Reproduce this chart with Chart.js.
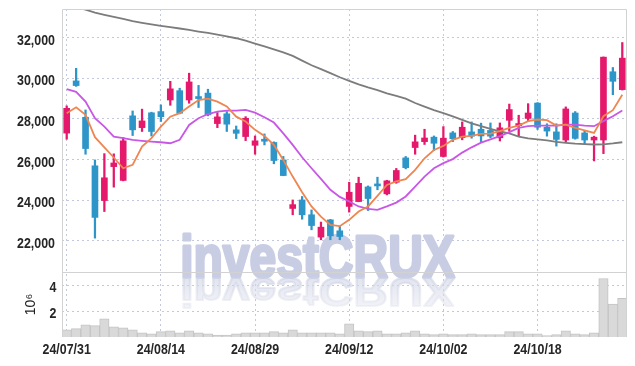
<!DOCTYPE html>
<html>
<head>
<meta charset="utf-8">
<script src="https://cdn.jsdelivr.net/npm/chart.js@4.4.1/dist/chart.umd.min.js"></script>
<style>
html,body{margin:0;padding:0;background:#fff;}
#wrap{width:635px;height:366px;}
</style>
</head>
<body>
<div id="wrap"><canvas id="c" width="635" height="366"></canvas></div>
<script>
const dates = ['24/07/31','24/08/01','24/08/02','24/08/05','24/08/06','24/08/07','24/08/08','24/08/09','24/08/12','24/08/13',
'24/08/14','24/08/16','24/08/19','24/08/20','24/08/21','24/08/22','24/08/23','24/08/26','24/08/27','24/08/28',
'24/08/29','24/08/30','24/09/02','24/09/03','24/09/04','24/09/05','24/09/06','24/09/09','24/09/10','24/09/11',
'24/09/12','24/09/13','24/09/19','24/09/20','24/09/23','24/09/24','24/09/25','24/09/26','24/09/27','24/09/30',
'24/10/02','24/10/04','24/10/07','24/10/08','24/10/10','24/10/11','24/10/14','24/10/15','24/10/16','24/10/17',
'24/10/18','24/10/21','24/10/22','24/10/23','24/10/24','24/10/25','24/10/28','24/10/29','24/10/30','24/10/31'];

const openP = [27300,29870,28080,25690,23980,25650,24970,28150,27570,28300,
28360,28930,29390,28930,29100,29270,27770,28250,27460,27130,
26700,26990,26840,25980,23590,24010,23280,22180,23030,22490,
23690,23930,24650,24770,24310,24880,26080,26590,26880,27100,
26150,27310,27080,27360,27490,27430,27070,27930,27670,28020,
28780,27590,27360,26960,28290,27310,26960,26960,30320,29440];

const closeP = [28520,29640,26540,23150,25100,25830,26920,27460,27900,27380,
28110,29480,28280,29820,29000,28200,28100,27740,27290,28030,
26920,26900,25950,25210,23780,23280,22750,22670,22240,22210,
24390,24830,24080,24700,24950,25460,25600,26870,27060,26800,
27050,27020,27590,27150,27160,27150,27560,28460,27770,28290,
27590,27400,26990,28490,27040,26960,27100,31040,29850,30990];

const highP = [28640,30490,28440,25980,26290,26280,27080,28390,28480,28330,
28690,29850,29510,30250,29650,29460,28310,28360,27650,28110,
27160,27260,26870,26150,24010,24180,23520,22920,23050,22700,
24880,25130,24700,25130,24980,25560,26150,27200,27490,27160,
27620,27380,27850,27850,27790,27800,27800,28730,28180,28750,
28800,27760,27760,28590,28360,27400,27150,31050,30530,31760];

const lowP = [27000,29600,26260,22130,23440,24640,24950,27180,27380,27160,
27870,28670,28250,28770,28560,28150,27570,27380,27030,26930,
26260,26720,25790,25200,23280,23060,22540,22050,22050,22050,
23410,23920,23490,24510,24260,24830,25540,26260,26740,26440,
26120,26880,26970,27050,26880,27070,26910,27400,27150,27890,
27480,27150,26660,26860,27000,26740,25930,26290,29190,29420];

const ma5 = [28280,28570,28200,27100,26600,26100,25570,25740,26640,27050,
27620,28110,28280,28610,28930,29000,28850,28610,28110,27870,
27460,27160,26720,25980,25160,24390,23690,23190,22780,22720,
23030,23440,23690,24210,24750,24920,25030,25490,26060,26470,
26670,26970,27130,27160,27260,27270,27400,27560,27670,27890,
27970,27940,27670,27720,27560,27430,27310,28130,28430,29190];

const ma10 = [29460,29330,28850,28030,27620,27130,27050,26970,26920,26880,
26850,26800,26970,27700,28030,28240,28360,28410,28410,28440,
28310,28080,27820,27290,26720,26110,25570,25050,24510,24160,
23930,23690,23570,23520,23690,23880,24180,24670,25160,25570,
25820,26020,26340,26600,26830,26990,27150,27350,27560,27640,
27670,27670,27670,27720,27720,27670,27640,27890,28130,28410];

const maLong = [33580,33480,33380,33230,33120,33020,32920,32810,32730,32650,
32580,32520,32450,32380,32300,32230,32150,32060,31970,31850,
31710,31570,31420,31270,31100,30870,30640,30450,30250,30050,
29870,29700,29550,29420,29260,29130,29000,28780,28600,28430,
28280,28120,27950,27780,27640,27510,27390,27290,27130,27040,
26990,26940,26870,26820,26780,26760,26740,26750,26790,26850];

const volume = [560000,640000,940000,870000,1400000,790000,710000,560000,330000,250000,
410000,480000,330000,480000,330000,250000,150000,150000,250000,330000,
330000,330000,410000,330000,560000,330000,330000,330000,330000,250000,
1020000,480000,410000,480000,250000,250000,330000,480000,250000,180000,
250000,180000,180000,250000,180000,180000,180000,410000,410000,250000,
250000,100000,180000,480000,250000,180000,330000,4500000,2540000,2980000];

const priceTicks = [22000,24000,26000,28000,30000,32000];
const volumeTicks = [2000000,4000000];
const labelEvery = 10;

const UP = '#e5196b', DOWN = '#2e95c8';
const candleColor = ctx => (closeP[ctx.dataIndex] >= openP[ctx.dataIndex] ? UP : DOWN);

Chart.defaults.font.family = "'Liberation Sans', Arial, sans-serif";
Chart.defaults.font.size = 15;
Chart.defaults.color = '#222';

// narrow (condensed) text, like Arial Narrow
function narrowText(ctx, text, x, y, align, size) {
  ctx.save();
  ctx.font = "bold " + size + "px 'Liberation Sans', Arial, sans-serif";
  ctx.fillStyle = '#262626';
  ctx.textBaseline = 'alphabetic';
  ctx.textAlign = align;
  ctx.translate(x, y);
  ctx.scale(0.8, 1);
  ctx.fillText(text, 0, 0);
  ctx.restore();
}

const axisLabels = {
  id: 'axisLabels',
  afterDraw(chart) {
    const {ctx, chartArea, scales} = chart;
    priceTicks.forEach(v => {
      narrowText(ctx, v.toLocaleString('en-US'), chartArea.left - 7, scales.y.getPixelForValue(v) + 7, 'right', 15.5);
    });
    volumeTicks.forEach(v => {
      narrowText(ctx, String(v / 1000000), chartArea.left - 5.5, scales.yv.getPixelForValue(v) + 6.5, 'right', 15.5);
    });
    scales.x.ticks.forEach(t => {
      narrowText(ctx, scales.x.getLabelForValue(t.value), scales.x.getPixelForValue(t.value), chartArea.bottom + 17, 'center', 15.5);
    });
  }
};

const watermark = {
  id: 'watermark',
  beforeDatasetsDraw(chart) {
    const ctx = chart.ctx;
    const cx = chart.width / 2;
    const base = 277;
    ctx.save();
    ctx.font = "bold 60px 'Liberation Sans', sans-serif";
    ctx.textAlign = 'center';
    ctx.textBaseline = 'alphabetic';
    ctx.lineJoin = 'round';
    ctx.save();
    ctx.translate(cx, base);
    ctx.scale(0.8, 1);
    ctx.fillStyle = 'rgb(200,205,228)';
    ctx.strokeStyle = 'rgb(200,205,228)';
    ctx.lineWidth = 3;
    ctx.strokeText('investCRUX', 0, 0);
    ctx.fillText('investCRUX', 0, 0);
    ctx.restore();
    ctx.save();
    ctx.translate(cx, base + 1);
    ctx.scale(0.8, -0.68);
    const g = ctx.createLinearGradient(0, 0, 0, -44);
    g.addColorStop(0, 'rgba(205,209,228,0.6)');
    g.addColorStop(1, 'rgba(225,227,238,0.4)');
    ctx.fillStyle = g;
    ctx.strokeStyle = g;
    ctx.lineWidth = 3;
    ctx.strokeText('investCRUX', 0, 0);
    ctx.fillText('investCRUX', 0, 0);
    ctx.restore();
    ctx.restore();
  }
};

const frame = {
  id: 'frame',
  afterDraw(chart) {
    const {ctx, chartArea: {left, right, top, bottom}, scales} = chart;
    ctx.save();
    ctx.strokeStyle = '#d2d2d2';
    ctx.lineWidth = 1;
    ctx.beginPath();
    const l = Math.round(left) + 0.5, r = Math.round(right) - 0.5, t = Math.round(top) + 0.5;
    const s = Math.round(scales.yv.top) + 0.5;
    ctx.moveTo(l, Math.round(bottom)); ctx.lineTo(l, t); ctx.lineTo(r, t); ctx.lineTo(r, Math.round(bottom));
    ctx.moveTo(l, s); ctx.lineTo(r, s);
    ctx.stroke();
    ctx.restore();
  }
};

new Chart(document.getElementById('c'), {
  data: {
    labels: dates,
    datasets: [
      { type: 'line', data: ma5, yAxisID: 'y', borderColor: '#ef8550', borderWidth: 1.8, pointRadius: 0, order: 0 },
      { type: 'line', data: ma10, yAxisID: 'y', borderColor: '#c957e6', borderWidth: 1.8, pointRadius: 0, order: 0 },
      { type: 'line', data: maLong, yAxisID: 'y', borderColor: '#7c7c7c', borderWidth: 1.8, pointRadius: 0, order: 0 },
      { type: 'bar', data: openP.map((o, i) => [o, closeP[i]]), yAxisID: 'y', grouped: false,
        barThickness: 6, minBarLength: 2, backgroundColor: candleColor, order: 1 },
      { type: 'bar', data: lowP.map((l, i) => [l, highP[i]]), yAxisID: 'y', grouped: false,
        barThickness: 1.6, backgroundColor: candleColor, order: 2 },
      { type: 'bar', data: volume, yAxisID: 'yv', grouped: false, barPercentage: 1, categoryPercentage: 1,
        backgroundColor: '#d9d9d9', borderColor: '#c4c4c4', borderWidth: 1, order: 3 }
    ]
  },
  options: {
    responsive: false,
    animation: false,
    devicePixelRatio: 1,
    layout: { padding: { left: 18, right: 8, top: 9, bottom: 6 } },
    plugins: { legend: { display: false }, tooltip: { enabled: false } },
    scales: {
      x: {
        type: 'category',
        offset: true,
        grid: { offset: false, color: '#c3c8dc', drawTicks: false },
        border: { display: false, dash: [2, 3] },
        afterBuildTicks: ax => { ax.ticks = ax.ticks.filter(t => t.value % labelEvery === 0); },
        afterFit: ax => { ax.height = 23; },
        ticks: { display: false, autoSkip: false, maxRotation: 0 }
      },
      y: {
        type: 'linear', position: 'left', stack: 'panes', stackWeight: 4.05, weight: 1,
        min: 20460, max: 33410,
        grid: { color: '#c3c8dc', drawTicks: false },
        border: { display: false, dash: [2, 3] },
        afterBuildTicks: ax => { ax.ticks = priceTicks.map(v => ({ value: v })); },
        afterFit: ax => { ax.width = 44; },
        ticks: { display: false }
      },
      yv: {
        type: 'linear', position: 'left', stack: 'panes', stackWeight: 1, weight: 0,
        min: 0, max: 5000000,
        grid: { color: '#c3c8dc', drawTicks: false },
        border: { display: false, dash: [2, 3] },
        afterBuildTicks: ax => { ax.ticks = volumeTicks.map(v => ({ value: v })); },
        afterFit: ax => { ax.width = 44; },
        ticks: { display: false },
        title: { display: true, text: '10⁶', font: { size: 14 }, padding: { top: 5, bottom: 2 } }
      }
    }
  },
  plugins: [watermark, frame, axisLabels]
});
</script>
</body>
</html>
